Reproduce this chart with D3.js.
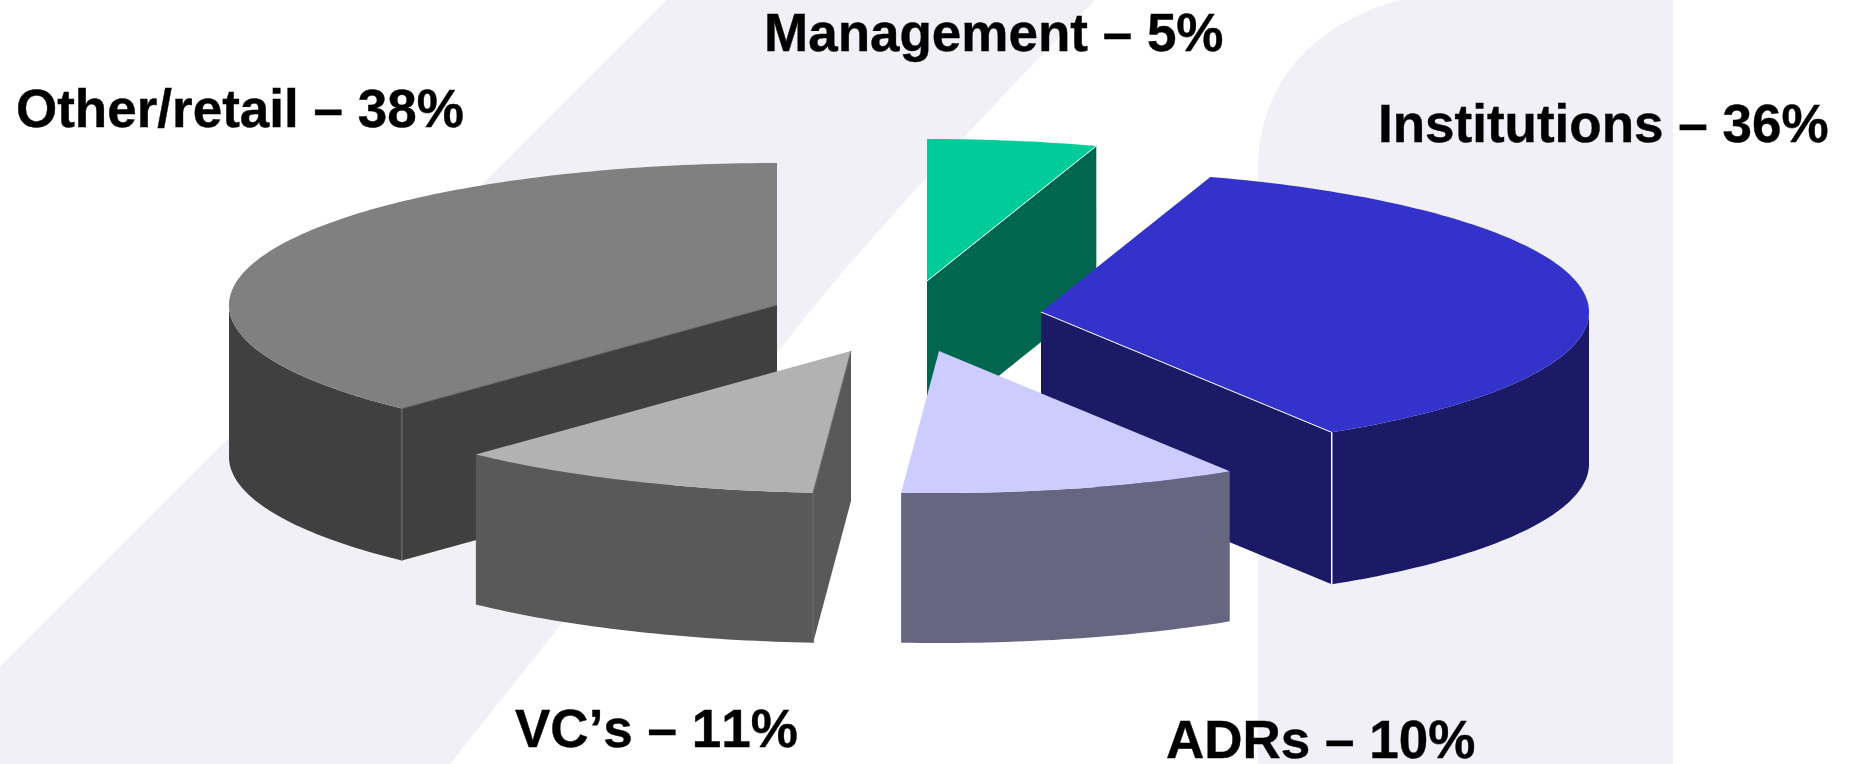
<!DOCTYPE html>
<html>
<head>
<meta charset="utf-8">
<style>
  html, body { margin: 0; padding: 0; background: #fff; }
  svg { display: block; }
  text { font-family: "Liberation Sans", Arial, sans-serif; font-weight: bold; font-size: 53px; fill: #000; stroke: #000; stroke-width: 0.4px; font-kerning: none; }
</style>
</head>
<body>
<div id="chart"></div>
<script src="https://cdn.jsdelivr.net/npm/d3@7"></script>
<script>
// data, clockwise from 12 o'clock (slice sizes as drawn, labels round them)
const categories = ["Management", "Institutions", "ADRs", "VC’s", "Other/retail"];
const shares = [5, 36.1, 10, 10.9, 38];
const topColors = ["#00CC99", "#3333CC", "#CCCCFF", "#B2B2B2", "#808080"];
const wallColors = ["#00664D", "#1A1A66", "#666680", "#595959", "#404040"];
const edgeColors = ["#ffffff", "#ffffff", "none", "#666666", "#666666"];

// layout: where each exploded slice has its tip, and where its label starts
const width = 1851, height = 764;
const radiusX = 548, radiusY = 142;
const sliceCentres = [[927, 281], [1041, 312], [939, 351], [851, 351], [777, 305]];
const sliceDepths = [152, 152, 150, 150, 152];
const labelPositions = [[764, 51], [1378, 142], [1166, 758], [515, 747], [16, 127]];
const drawOrder = [4, 0, 1, 3, 2]; // back to front

const svg = d3.select("#chart").append("svg")
    .attr("width", width)
    .attr("height", height);

// pale template shapes behind the chart
const bgColor = "#F0F0F6";
svg.append("path")
    .attr("fill", bgColor)
    .attr("d", "M667,0 L0,667 L0,764 L450,764 L803,320 Q887,214 1095,0 Z");
svg.append("path")
    .attr("fill", bgColor)
    .attr("d", "M1258,764 L1258,170 C1258,85 1310,25 1400,0 L1673,0 L1673,764 Z");

const slices = d3.pie().sort(null).value(d => d)(shares);
const line = d3.line();
const angleStep = Math.PI / 180;

// top of the slice is an ellipse, so the angle is projected by hand
const rimPoint = (centre, angle, drop = 0) => [
    centre[0] + radiusX * Math.sin(angle),
    centre[1] - radiusY * Math.cos(angle) + drop
];

const arcAngles = (a0, a1) => {
    const angles = d3.range(a0, a1, angleStep);
    angles.push(a1);
    return angles;
};

const frontStart = Math.PI / 2, frontEnd = 3 * Math.PI / 2;

drawOrder.forEach(i => {
    const s = slices[i];
    const centre = sliceCentres[i];
    const depth = sliceDepths[i];
    const g = svg.append("g").attr("class", "slice");

    // radial faces that look towards the viewer
    const radialFace = angle => {
        const rim = rimPoint(centre, angle);
        const rimLow = rimPoint(centre, angle, depth);
        g.append("path")
            .attr("fill", wallColors[i])
            .attr("d", line([centre, rim, rimLow, [centre[0], centre[1] + depth]]) + "Z");
    };
    if (s.startAngle > Math.PI && s.startAngle < 2 * Math.PI) radialFace(s.startAngle);
    if (s.endAngle > 0 && s.endAngle < Math.PI) radialFace(s.endAngle);

    // outer wall, only the front half of the rim shows
    const w0 = Math.max(s.startAngle, frontStart);
    const w1 = Math.min(s.endAngle, frontEnd);
    if (w1 > w0) {
        const angles = arcAngles(w0, w1);
        const upper = angles.map(a => rimPoint(centre, a));
        const lower = angles.map(a => rimPoint(centre, a, depth)).reverse();
        g.append("path")
            .attr("fill", wallColors[i])
            .attr("d", line(upper.concat(lower)) + "Z");
    }

    // top face
    const top = [centre].concat(arcAngles(s.startAngle, s.endAngle).map(a => rimPoint(centre, a)));
    g.append("path")
        .attr("fill", topColors[i])
        .attr("d", line(top) + "Z");

    // thin edge lines where the faces meet
    const edge = angle => {
        g.append("path")
            .attr("fill", "none")
            .attr("stroke", edgeColors[i])
            .attr("stroke-width", 1)
            .attr("d", line([centre, rimPoint(centre, angle)]));
        if (angle >= frontStart && angle <= frontEnd) {
            g.append("path")
                .attr("fill", "none")
                .attr("stroke", edgeColors[i])
                .attr("stroke-width", 1.5)
                .attr("d", line([rimPoint(centre, angle), rimPoint(centre, angle, depth)]));
        }
    };
    if (s.startAngle > Math.PI && s.startAngle < 2 * Math.PI) edge(s.startAngle);
    if (s.endAngle > 0 && s.endAngle < Math.PI) edge(s.endAngle);
});

// labels
svg.selectAll("text.label")
    .data(categories)
    .join("text")
    .attr("class", "label")
    .attr("x", (d, i) => labelPositions[i][0])
    .attr("y", (d, i) => labelPositions[i][1])
    .text((d, i) => `${d} – ${Math.round(shares[i])}%`);
</script>
</body>
</html>
